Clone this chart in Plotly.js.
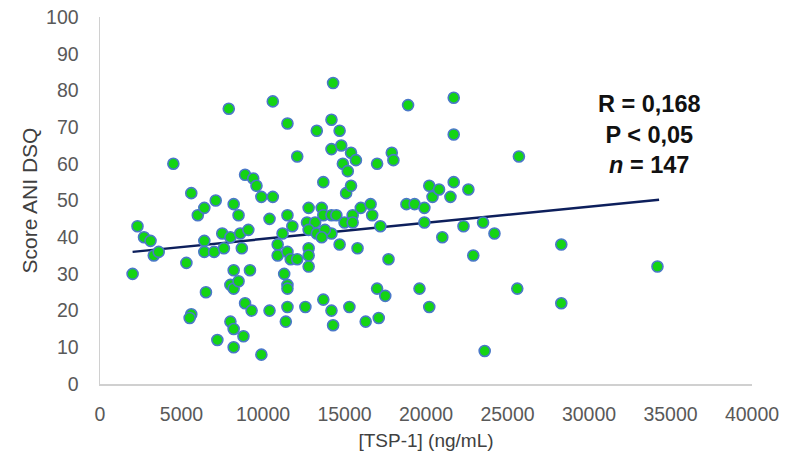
<!DOCTYPE html>
<html>
<head>
<meta charset="utf-8">
<script src="https://cdn.plot.ly/plotly-3.0.1.min.js"></script>
<style>html,body{margin:0;padding:0;background:#fff;}#chart{width:795px;height:461px;}</style>
</head>
<body>
<div id="chart"></div>
<script>
// TSP-1 concentration (ng/mL)
const tsp1 = [
  2000, 2300, 2700, 3100, 3300, 3600, 4500, 5300, 5600, 5600,
  5500, 6000, 6400, 6400, 6400, 6500, 7000, 7100, 7200, 7500,
  7600, 7900, 8000, 8000, 8000, 8200, 8200, 8200, 8200, 8200,
  8500, 8500, 8600, 8700, 8800, 8900, 8900, 9100, 9200, 9300,
  9400, 9600, 9900, 9900, 10400, 10400, 10600, 10600, 10900, 10900,
  11200, 11300, 11500, 11500, 11500, 11500, 11500, 11500, 11400, 11800,
  11700, 12100, 12100, 12700, 12800, 12800, 12800, 12800, 12600, 13300,
  13200, 13600, 13700, 13700, 13700, 14200, 14300, 14200, 14200, 14200,
  14200, 14300, 14500, 14700, 14700, 14800, 14900, 15000, 15100, 15200,
  15300, 15400, 15400, 15500, 15500, 15700, 15800, 16000, 16300, 16600,
  16700, 17000, 17000, 17100, 17200, 17500, 17700, 17900, 18000, 18900,
  18800, 19300, 19600, 19900, 19900, 20200, 20200, 20400, 20800, 21000,
  21500, 21700, 21700, 21700, 22300, 22600, 22900, 23500, 23600, 24200,
  25600, 25700, 28300, 28300, 34200, 12800, 13300, 13800, 13600
];
// Score ANI DSQ
const score = [
  30, 43, 40, 39, 35, 36, 60, 33, 52, 19,
  18, 46, 48, 39, 36, 25, 36, 50, 12, 41,
  37, 75, 40, 27, 17, 49, 31, 26, 15, 10,
  46, 28, 41, 37, 13, 57, 22, 42, 31, 20,
  56, 54, 51, 8, 45, 20, 77, 51, 38, 35,
  41, 30, 71, 46, 36, 27, 26, 21, 17, 43,
  34, 34, 62, 44, 48, 37, 35, 32, 21, 69,
  44, 48, 55, 46, 23, 72, 82, 64, 46, 41,
  20, 16, 46, 69, 38, 65, 60, 44, 52, 58,
  21, 63, 54, 46, 44, 61, 37, 48, 17, 49,
  46, 60, 26, 18, 43, 24, 34, 63, 61, 76,
  49, 49, 26, 48, 44, 54, 21, 51, 53, 40,
  51, 78, 68, 55, 43, 53, 35, 44, 9, 41,
  26, 62, 38, 22, 32, 42, 41, 42, 40
];
// Linear trend line end points
const trendX = [2000, 34300];
const trendY = [36, 50.2];
// Axis ticks
const xTicks = [0, 5000, 10000, 15000, 20000, 25000, 30000, 35000, 40000];
const yTicks = [0, 10, 20, 30, 40, 50, 60, 70, 80, 90, 100];
const statsLines = ['<b>R = 0,168</b>', '<b>P < 0,05</b>', '<b><i>n</i> = 147</b>'];

const font = 'Liberation Sans, Arial, sans-serif';

const traces = [
  {
    type: 'scatter', mode: 'lines', x: trendX, y: trendY,
    line: {color: '#0d1f5c', width: 2.5}, hoverinfo: 'skip', showlegend: false
  },
  {
    type: 'scatter', mode: 'markers', x: tsp1, y: score,
    marker: {size: 11, color: '#14d414', line: {color: '#4a78c8', width: 1.6}},
    showlegend: false
  }
];

const layout = {
  width: 795, height: 461,
  margin: {l: 100, r: 43, t: 17, b: 77, pad: 0},
  paper_bgcolor: '#ffffff', plot_bgcolor: '#ffffff',
  font: {family: font, color: '#595959', size: 19},
  showlegend: false,
  xaxis: {
    range: [0, 40000], tickvals: xTicks, ticktext: xTicks.map(String),
    showgrid: false, zeroline: false, showline: true, linecolor: '#d0d0d0', linewidth: 1.5,
    ticks: '', ticklabelstandoff: 12,
    tickfont: {family: font, size: 19.5, color: '#595959'},
    title: {text: '[TSP-1] (ng/mL)', font: {family: font, size: 19, color: '#404040'}, standoff: 10}
  },
  yaxis: {
    range: [0, 100], tickvals: yTicks, ticktext: yTicks.map(String),
    showgrid: false, zeroline: false, showline: true, linecolor: '#d0d0d0', linewidth: 1.5,
    ticks: '', ticklabelstandoff: 16,
    tickfont: {family: font, size: 19.5, color: '#595959'},
    title: {text: 'Score ANI DSQ', font: {family: font, size: 21, color: '#404040'}, standoff: 2}
  },
  annotations: [{
    xref: 'x', yref: 'y', x: 33700, y: 68, xanchor: 'center', yanchor: 'middle',
    text: statsLines.join('<br>'), showarrow: false, align: 'center',
    font: {family: font, size: 23.5, color: '#111111'}
  }]
};

Plotly.newPlot('chart', traces, layout, {displayModeBar: false, staticPlot: true});
</script>
</body>
</html>
